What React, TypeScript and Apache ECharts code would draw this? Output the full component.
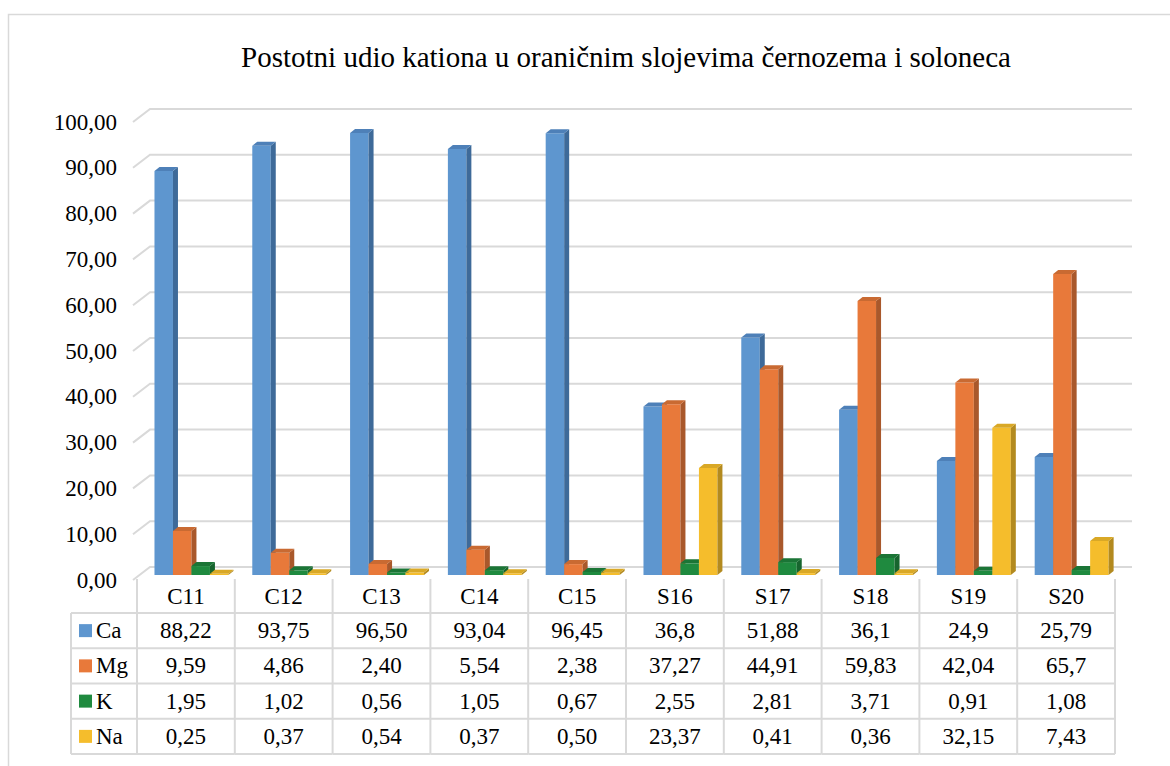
import React, { useEffect, useRef } from "react";
import * as echarts from "echarts";

const chartTitle = "Postotni udio kationa u oraničnim slojevima černozema i soloneca";
const categories = ["C11", "C12", "C13", "C14", "C15", "S16", "S17", "S18", "S19", "S20"];
const seriesNames = ["Ca", "Mg", "K", "Na"];
const caValues = [88.22, 93.75, 96.5, 93.04, 96.45, 36.8, 51.88, 36.1, 24.9, 25.79];
const mgValues = [9.59, 4.86, 2.4, 5.54, 2.38, 37.27, 44.91, 59.83, 42.04, 65.7];
const kValues = [1.95, 1.02, 0.56, 1.05, 0.67, 2.55, 2.81, 3.71, 0.91, 1.08];
const naValues = [0.25, 0.37, 0.54, 0.37, 0.5, 23.37, 0.41, 0.36, 32.15, 7.43];
// decimals shown in the data table for each category (null = as recorded)
const tableDecimals: (number | null)[] = [2, 2, 2, 2, 2, null, null, null, null, null];
const yTicks = [0, 10, 20, 30, 40, 50, 60, 70, 80, 90, 100];

const allValues = [caValues, mgValues, kValues, naValues];
const frontColors = ["#5E96CF", "#E8793A", "#1F8A3F", "#F5BD2C"];
const sideColors = ["#3E6A99", "#A9582B", "#17652E", "#B38A1F"];
const topColors = ["#4E80B8", "#C96A32", "#1B7536", "#D9A826"];

const FONT = "Liberation Serif, Times New Roman, serif";
const LINE = "#d9d9d9";

const fmt = (v: number, d: number | null) =>
  (d == null ? String(v) : v.toFixed(d)).replace(".", ",");

export default function App() {
  const ref = useRef<HTMLDivElement>(null);
  useEffect(() => {
    if (!ref.current) return;
    const chart = echarts.init(ref.current, undefined, { renderer: "svg" });

    const barSeries = allValues.map((vals, s) => ({
      type: "custom",
      name: seriesNames[s],
      clip: false,
      z: 3,
      data: vals.map((v, i) => [i, v]),
      renderItem: (params: any, api: any) => {
        const i = api.value(0);
        const v = api.value(1);
        const base = api.coord([i, 0]);
        const top = api.coord([i, v]);
        const bw = api.size([1, 0])[0];
        const w = bw * 0.189;
        const x = base[0] - bw / 2 + w * (1 + s) - 1;
        const y0 = base[1] - 5;
        const y1 = top[1] - 5;
        const dx = 5;
        const dy = 4;
        return {
          type: "group",
          children: [
            { type: "rect", shape: { x, y: y1, width: w, height: y0 - y1 }, style: { fill: frontColors[s] } },
            {
              type: "polygon",
              shape: { points: [[x + w, y1], [x + w + dx, y1 - dy], [x + w + dx, y0 - dy], [x + w, y0]] },
              style: { fill: sideColors[s] },
            },
            {
              type: "polygon",
              shape: { points: [[x, y1], [x + dx, y1 - dy], [x + w + dx, y1 - dy], [x + w, y1]] },
              style: { fill: topColors[s] },
            },
          ],
        };
      },
    }));

    const gridSeries = {
      type: "custom",
      clip: false,
      z: 1,
      silent: true,
      data: yTicks.map((v) => [0, v]),
      renderItem: (params: any, api: any) => {
        const p = api.coord([0, api.value(1)]);
        const bw = api.size([1, 0])[0];
        const left = p[0] - bw / 2;
        const right = left + bw * categories.length;
        return {
          type: "polyline",
          shape: { points: [[left - 4, p[1]], [left + 13, p[1] - 13], [right + 17, p[1] - 13]] },
          style: { stroke: LINE, lineWidth: 2, fill: "none" },
        };
      },
    };

    const tableSeries = {
      type: "custom",
      clip: false,
      z: 2,
      silent: true,
      data: categories.map((c, i) => [i, 0]),
      renderItem: (params: any, api: any) => {
        const i = api.value(0);
        const p = api.coord([i, 0]);
        const bw = api.size([1, 0])[0];
        const xl = p[0] - bw / 2;
        const xr = p[0] + bw / 2;
        const y0 = p[1];
        const rowTop = y0 + 33;
        const rowH = 35.25;
        const bottom = rowTop + rowH * 4;
        const children: any[] = [];
        const ln = (x1: number, y1: number, x2: number, y2: number) => ({
          type: "line",
          shape: { x1, y1, x2, y2 },
          style: { stroke: LINE, lineWidth: 2 },
        });
        children.push(ln(xl, y0 - 1, xl, bottom));
        if (i === categories.length - 1) children.push(ln(xr, y0 - 1, xr, bottom));
        for (let r = 0; r <= 4; r++) children.push(ln(xl, rowTop + r * rowH, xr, rowTop + r * rowH));
        allValues.forEach((vals, s) => {
          children.push({
            type: "text",
            style: {
              text: fmt(vals[i], tableDecimals[i]),
              x: p[0],
              y: rowTop + rowH * (s + 0.5),
              align: "center",
              verticalAlign: "middle",
              fontSize: 23,
              fontFamily: FONT,
              fill: "#000",
            },
          });
        });
        if (i === 0) {
          const hl = xl - 66;
          children.push(ln(hl, rowTop, hl, bottom));
          for (let r = 0; r <= 4; r++) children.push(ln(hl, rowTop + r * rowH, xl, rowTop + r * rowH));
          seriesNames.forEach((name, s) => {
            const cy = rowTop + rowH * (s + 0.5);
            children.push({
              type: "rect",
              shape: { x: hl + 8, y: cy - 6.5, width: 13, height: 13 },
              style: { fill: frontColors[s] },
            });
            children.push({
              type: "text",
              style: {
                text: name,
                x: hl + 25,
                y: cy,
                align: "left",
                verticalAlign: "middle",
                fontSize: 23,
                fontFamily: FONT,
                fill: "#000",
              },
            });
          });
        }
        return { type: "group", children };
      },
    };

    chart.setOption({
      animation: false,
      title: {
        text: chartTitle,
        left: 621,
        top: 37,
        textAlign: "center",
        textStyle: { fontFamily: FONT, fontSize: 29, fontWeight: "normal", color: "#000" },
      },
      graphic: [
        {
          type: "rect",
          shape: { x: 8.5, y: 14.5, width: 1200, height: 800 },
          style: { fill: "none", stroke: LINE, lineWidth: 1.5 },
          z: -10,
        },
      ],
      grid: { left: 137, right: 55, top: 122, bottom: 186 },
      xAxis: {
        type: "category",
        data: categories,
        axisLine: { show: false },
        axisTick: { show: false },
        splitLine: { show: false },
        axisLabel: { fontFamily: FONT, fontSize: 23, color: "#000", margin: 5 },
      },
      yAxis: {
        type: "value",
        min: 0,
        max: 100,
        interval: 10,
        axisLine: { show: false },
        axisTick: { show: false },
        splitLine: { show: false },
        axisLabel: {
          fontFamily: FONT,
          fontSize: 23,
          color: "#000",
          margin: 20,
          formatter: (v: number) => fmt(v, 2),
        },
      },
      series: [gridSeries, tableSeries, ...barSeries],
    });
    return () => chart.dispose();
  }, []);
  return (
    <div
      ref={ref}
      style={{ position: "fixed", left: 0, top: 0, width: 1170, height: 766, background: "#fff" }}
    />
  );
}
